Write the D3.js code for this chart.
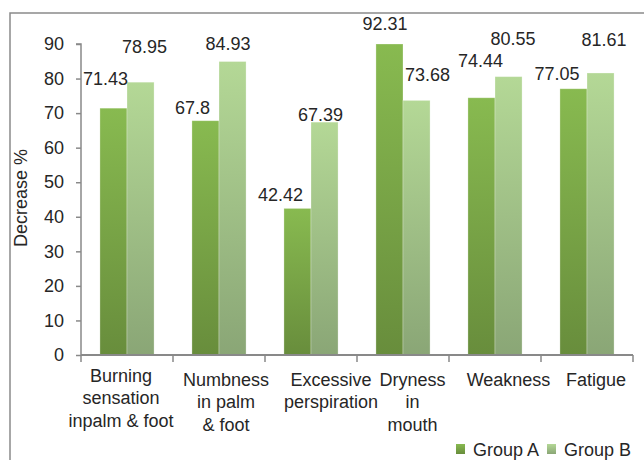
<!DOCTYPE html>
<html>
<head>
<meta charset="utf-8">
<script src="https://cdn.jsdelivr.net/npm/d3@7"></script>
<style>
  html, body { margin: 0; padding: 0; background: #fff; }
  svg { display: block; font-family: "Liberation Sans", Arial, sans-serif; }
</style>
</head>
<body>
<svg id="chart" width="644" height="460"></svg>
<script>
// Symptom categories (multi-line labels split on "\n")
const categories = [
  "Burning\nsensation\ninpalm & foot",
  "Numbness\nin palm\n& foot",
  "Excessive\nperspiration",
  "Dryness\nin\nmouth",
  "Weakness",
  "Fatigue"
];
const groups = ["Group A", "Group B"];
const groupA = [71.43, 67.8, 42.42, 92.31, 74.44, 77.05];
const groupB = [78.95, 84.93, 67.39, 73.68, 80.55, 81.61];
const yTicks = [0, 10, 20, 30, 40, 50, 60, 70, 80, 90];
const yTitle = "Decrease %";

const rows = categories.map((c, i) => ({ cat: c, values: [groupA[i], groupB[i]] }));

const svg = d3.select("#chart");
const W = 644, H = 460;
const plot = { left: 81, right: 633, top: 44, bottom: 355 };
const textColor = "#262626";
const axisColor = "#898989";
const fontSize = 18;

// Outer frame (top and left edges)
svg.append("path")
  .attr("d", `M10,${H + 2} L10,13 L${W + 2},13`)
  .attr("fill", "none")
  .attr("stroke", "#8a8a8a")
  .attr("stroke-width", 1.5);

const x0 = d3.scaleBand().domain(categories).range([plot.left, plot.right]).paddingInner(0).paddingOuter(0);
const x1 = d3.scaleBand().domain(groups).range([0, x0.bandwidth()]).paddingInner(0).paddingOuter(0.7);
const y = d3.scaleLinear().domain([0, 90]).range([plot.bottom, plot.top]).clamp(true);

// Vertical gradients for each series
const defs = svg.append("defs");
const grads = [
  { id: "gA", top: "#88ba50", bottom: "#688d3c" },
  { id: "gB", top: "#b4d896", bottom: "#8aa676" }
];
grads.forEach(g => {
  const lg = defs.append("linearGradient").attr("id", g.id)
    .attr("x1", 0).attr("y1", 0).attr("x2", 0).attr("y2", 1);
  lg.append("stop").attr("offset", "0%").attr("stop-color", g.top);
  lg.append("stop").attr("offset", "100%").attr("stop-color", g.bottom);
});

// Bars
const catG = svg.append("g").selectAll("g").data(rows).join("g")
  .attr("transform", d => `translate(${x0(d.cat)},0)`);

catG.selectAll("rect").data(d => d.values.map((v, j) => ({ v, g: groups[j], j })))
  .join("rect")
  .attr("x", d => x1(d.g))
  .attr("y", d => y(d.v))
  .attr("width", x1.bandwidth())
  .attr("height", d => y(0) - y(d.v))
  .attr("fill", d => `url(#${grads[d.j].id})`)
  .attr("stroke", "rgba(255,255,255,0.35)")
  .attr("stroke-width", 0.8);

// Value labels, nudged individually above their bars [dx, dy] relative to bar centre/top
const labelNudge = [
  [[-8, -29.5], [4, -35.5]],
  [[-13, -13], [-4.5, -17.5]],
  [[-17, -13.4], [-4, -8]],
  [[-4.5, -20], [11, -25.4]],
  [[-1, -37.7], [4.5, -38]],
  [[-16.5, -15], [3.5, -33]]
];
catG.each(function (d, i) {
  d3.select(this).selectAll("text.val")
    .data(d.values.map((v, j) => ({ v, g: groups[j], j })))
    .join("text")
    .attr("class", "val")
    .attr("x", e => x1(e.g) + x1.bandwidth() / 2 + labelNudge[i][e.j][0])
    .attr("y", e => y(e.v) + labelNudge[i][e.j][1])
    .attr("dy", "0.36em")
    .attr("text-anchor", "middle")
    .attr("font-size", fontSize)
    .attr("fill", textColor)
    .text(e => e.v);
});

// Y axis
const yAxis = d3.axisLeft(y).tickValues(yTicks).tickSize(5).tickPadding(12).tickFormat(d3.format("d"));
const gy = svg.append("g").attr("transform", `translate(${plot.left},0)`).call(yAxis);
gy.select(".domain").attr("stroke", axisColor).attr("stroke-width", 1.5).attr("d", `M-5,${plot.top}H0V${plot.bottom}`);
gy.selectAll(".tick line").attr("stroke", axisColor).attr("stroke-width", 1.5);
gy.selectAll(".tick text").attr("font-size", fontSize).attr("fill", textColor)
  .attr("font-family", "Liberation Sans, Arial, sans-serif");

// X axis: baseline with boundary ticks between categories
const gx = svg.append("g");
gx.append("line")
  .attr("x1", plot.left).attr("x2", plot.right)
  .attr("y1", y(0)).attr("y2", y(0))
  .attr("stroke", axisColor).attr("stroke-width", 2);
const bounds = categories.map(c => x0(c)).concat([x0(categories[categories.length - 1]) + x0.bandwidth()]);
gx.selectAll("line.tk").data(bounds).join("line").attr("class", "tk")
  .attr("x1", d => d).attr("x2", d => d)
  .attr("y1", y(0)).attr("y2", y(0) + 7)
  .attr("stroke", axisColor).attr("stroke-width", 1.5);

// Category labels
const catNudge = [[-6, -4], [7, 0], [20, 0], [9.5, 0], [13.5, 0], [9, 0]];
const lineH = 22.5;
categories.forEach((c, i) => {
  const t = svg.append("text")
    .attr("text-anchor", "middle")
    .attr("font-size", fontSize)
    .attr("fill", textColor);
  c.split("\n").forEach((line, k) => {
    t.append("tspan")
      .attr("x", x0(c) + x0.bandwidth() / 2 + catNudge[i][0])
      .attr("y", 379.5 + catNudge[i][1] + k * lineH)
      .attr("dy", "0.36em")
      .text(line);
  });
});

// Y axis title
svg.append("text")
  .attr("transform", `translate(21,198) rotate(-90)`)
  .attr("text-anchor", "middle")
  .attr("dy", "0.36em")
  .attr("font-size", fontSize)
  .attr("fill", textColor)
  .text(yTitle);

// Legend
const legendX = [456, 547];
groups.forEach((g, j) => {
  svg.append("rect")
    .attr("x", legendX[j]).attr("y", 444)
    .attr("width", 9).attr("height", 10)
    .attr("fill", `url(#${grads[j].id})`);
  svg.append("text")
    .attr("x", legendX[j] + 17).attr("y", 456)
    .attr("font-size", fontSize)
    .attr("fill", textColor)
    .text(g);
});
</script>
</body>
</html>
